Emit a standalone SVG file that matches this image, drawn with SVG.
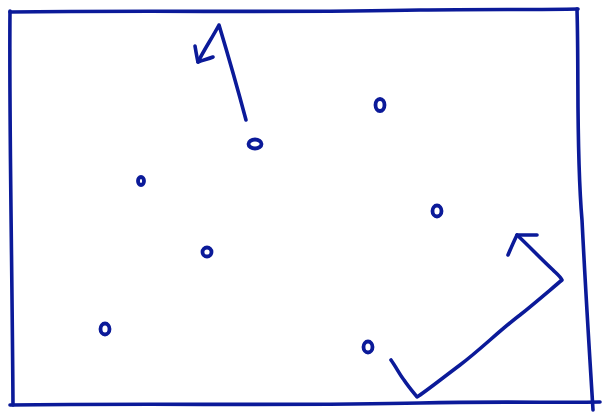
<svg xmlns="http://www.w3.org/2000/svg" width="603" height="414" viewBox="0 0 603 414">
<style>
.s{fill:none;stroke:#0b1a99;stroke-width:3.6;stroke-linecap:round;stroke-linejoin:round}
.d{fill:none;stroke:#0b1a99;stroke-width:3.8}
</style>
<rect width="603" height="414" fill="#ffffff"/>
<g id="frame">
<path class="s" d="M10,12 C150,10 300,13 420,10 C480,9 540,10 578,9"/>
<path class="s" d="M577,9 C579,80 576,150 582,220 C586,300 590,360 593,410"/>
<path class="s" d="M10,11 C9,120 12,250 13,405"/>
<path class="s" d="M10,405 C150,403 300,406 420,403 C500,401 560,403 600,402"/>
</g>
<g id="dots">
<ellipse class="d" cx="380" cy="105" rx="4.5" ry="6"/>
<ellipse class="d" cx="255" cy="144" rx="6.5" ry="4.5"/>
<ellipse class="d" cx="141" cy="181" rx="3" ry="4"/>
<ellipse class="d" cx="437" cy="211" rx="4.5" ry="5.5"/>
<ellipse class="d" cx="207" cy="252" rx="4.5" ry="4.5"/>
<ellipse class="d" cx="105" cy="329" rx="4.5" ry="5.5"/>
<ellipse class="d" cx="368" cy="347" rx="4.5" ry="5.5"/>
</g>
<g id="connectors">
<path class="s" d="M246,120 C238,90 228,55 219,25 C212,38 204,50 198,62"/>
<path class="s" d="M195,46 C196,52 197,58 198,62 C203,60 208,59 213,57"/>
<path class="s" d="M391,360 C396,367 400,375 404,380 C408,386 413,392 417,397 C425,392 440,380 460,365 C480,350 500,330 520,315 C535,303 550,290 562,280 C560,276 556,273 553,270 C540,258 528,245 517,235"/>
<path class="s" d="M508,255 C511,248 514,241 517,235 C524,235 531,235 537,235"/>
</g>
</svg>
